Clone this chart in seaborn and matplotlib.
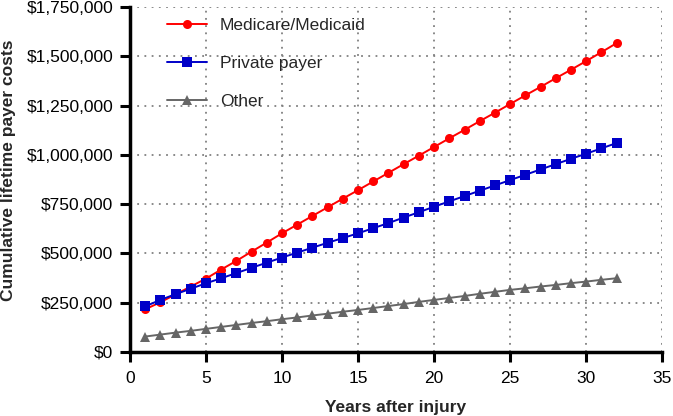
import matplotlib
matplotlib.use("Agg")
import matplotlib.pyplot as plt
import pandas as pd
import seaborn as sns
from matplotlib.ticker import FuncFormatter, MultipleLocator

# cumulative lifetime payer costs (USD), years 1..32
years = list(range(1, 33))
medicare = [216000, 252000, 292000, 332000, 372000, 418000, 462000, 509000,
            555000, 602000, 646000, 690000, 734000, 778000, 821000, 865000,
            909000, 953000, 996000, 1040000, 1084000, 1127000, 1171000, 1214000,
            1258000, 1302000, 1345000, 1389000, 1432000, 1476000, 1521000, 1567000]
private = [231000, 264000, 293000, 321000, 348000, 374000, 400000, 427000,
           453000, 479000, 504000, 529000, 554000, 578000, 602000, 628000,
           654000, 682000, 709000, 737000, 764000, 791000, 818000, 845000,
           872000, 899000, 926000, 953000, 980000, 1006000, 1033000, 1060000]
other = [78000, 88000, 98000, 107000, 117000, 127000, 137000, 147000,
         156000, 166000, 175000, 185000, 194000, 204000, 213000, 223000,
         233000, 243000, 254000, 264000, 274000, 284000, 295000, 305000,
         315000, 323000, 332000, 340000, 349000, 357000, 366000, 374000]

df = pd.DataFrame({
    "year": years * 3,
    "cost": medicare + private + other,
    "payer": ["Medicare/Medicaid"] * 32 + ["Private payer"] * 32 + ["Other"] * 32,
})

sns.set_style("white")
plt.rcParams["font.family"] = ["Liberation Sans", "DejaVu Sans"]

fig, ax = plt.subplots(figsize=(6.73, 4.16), dpi=100)
fig.subplots_adjust(left=0.193, right=0.984, bottom=0.154, top=0.983)

palette = {"Medicare/Medicaid": "#ff0000", "Private payer": "#0000c8", "Other": "#666666"}
markers = {"Medicare/Medicaid": "o", "Private payer": "s", "Other": "^"}
sns.lineplot(data=df, x="year", y="cost", hue="payer", style="payer",
             palette=palette, markers=markers, dashes=False, markersize=6.5,
             markeredgewidth=0, linewidth=1.4, ax=ax, zorder=3)

ax.set_xlim(0, 35)
ax.set_ylim(0, 1750000)
ax.xaxis.set_major_locator(MultipleLocator(5))
ax.yaxis.set_major_locator(MultipleLocator(250000))
ax.yaxis.set_major_formatter(FuncFormatter(lambda v, p: f"${v:,.0f}"))

for side in ["top", "right"]:
    ax.spines[side].set_visible(False)
for side in ["left", "bottom"]:
    ax.spines[side].set_linewidth(2.5)
    ax.spines[side].set_color("black")
ax.tick_params(axis="both", direction="out", length=7, width=2.2, pad=5,
               labelsize=12.5, colors="black", bottom=True, left=True)
ax.tick_params(axis="x", pad=7)
ax.xaxis.grid(True, linestyle=(0, (1, 3)), color="#808080", linewidth=1.3)
ax.yaxis.grid(True, linestyle=(0, (1, 3)), color="#808080", linewidth=1.3)
ax.set_axisbelow(True)

ax.set_xlabel("Years after injury", fontsize=12.5, fontweight="bold", labelpad=10)
ax.set_ylabel("Cumulative lifetime payer costs", fontsize=12.5, fontweight="bold")
ax.yaxis.set_label_coords(-0.213, 0.527)

leg = ax.legend(loc="upper left", bbox_to_anchor=(0.04, 1.013), frameon=False,
                fontsize=12.5, labelspacing=1.3, handlelength=2.3, handletextpad=0.75)
for h in leg.legend_handles:
    h.set_markersize(6.5)

plt.savefig("out.png", dpi=100)
